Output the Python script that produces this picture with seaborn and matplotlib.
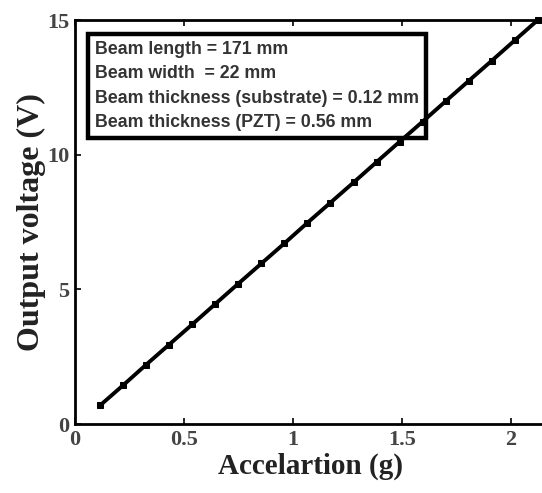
import numpy as np
import pandas as pd
import matplotlib
matplotlib.use("Agg")
import matplotlib.pyplot as plt
import seaborn as sns

# values
accel_g = [0.115, 0.221, 0.326, 0.432, 0.538, 0.644, 0.749, 0.855, 0.961, 1.066,
           1.172, 1.278, 1.384, 1.489, 1.595, 1.701, 1.806, 1.912, 2.018, 2.123]
voltage_v = [0.69, 1.44, 2.20, 2.95, 3.70, 4.46, 5.21, 5.96, 6.71, 7.47,
             8.22, 8.97, 9.73, 10.48, 11.23, 11.99, 12.74, 13.49, 14.25, 15.00]
x_ticks = [0, 0.5, 1, 1.5, 2]
x_tick_labels = ["0", "0.5", "1", "1.5", "2"]
y_ticks = [0, 5, 10, 15]
info_lines = [
    "Beam length = 171 mm",
    "Beam width  = 22 mm",
    "Beam thickness (substrate) = 0.12 mm",
    "Beam thickness (PZT) = 0.56 mm",
]

df = pd.DataFrame({"accel": accel_g, "volt": voltage_v})

sns.set_style("ticks")
plt.rcParams["font.family"] = ["Liberation Serif", "DejaVu Serif"]

fig = plt.figure(figsize=(5.42, 4.93), dpi=100)
ax = fig.add_axes([75 / 542, 69 / 493, 470 / 542, 404 / 493])

# line sits on top of the info box, like in the original
sns.lineplot(data=df, x="accel", y="volt", ax=ax, color="black", linewidth=2.8,
             marker="s", markersize=4, markeredgecolor="black", clip_on=False, zorder=5)

ax.set_xlim(0, 470 / 218)
ax.set_ylim(0, 15)
ax.set_xticks(x_ticks)
ax.set_xticklabels(x_tick_labels)
ax.set_yticks(y_ticks)
ax.tick_params(direction="in", length=4, width=1.2, labelsize=16, colors="black",
               top=True, right=False, pad=4)
for lab in ax.get_xticklabels() + ax.get_yticklabels():
    lab.set_fontweight("bold")
    lab.set_color("#444444")

for side in ["left", "bottom", "top"]:
    ax.spines[side].set_linewidth(2)
    ax.spines[side].set_color("black")
ax.spines["right"].set_visible(False)

ax.set_xlabel("Accelartion (g)", fontsize=21, fontweight="bold", color="#222222", labelpad=2)
ax.set_ylabel("Output voltage (V)", fontsize=23, fontweight="bold", color="#222222", labelpad=1)

ax.text(0.043, 0.948, "\n".join(info_lines), transform=ax.transAxes, ha="left", va="top",
        fontsize=12.8, fontweight="bold", color="#333333", family=["Liberation Sans", "DejaVu Sans"],
        linespacing=1.56, zorder=3,
        bbox=dict(boxstyle="square,pad=0.4", facecolor="white", edgecolor="black", linewidth=3.2))

fig.savefig("out.png", dpi=100)
